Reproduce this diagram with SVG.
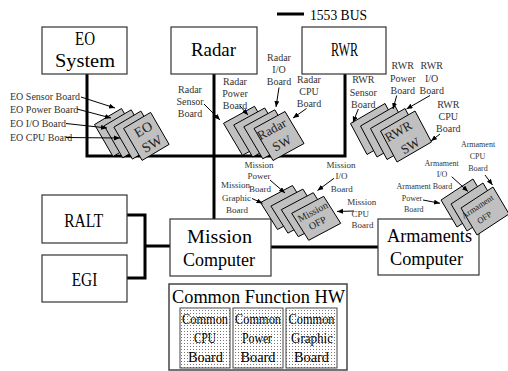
<svg xmlns="http://www.w3.org/2000/svg" xmlns:xlink="http://www.w3.org/1999/xlink" width="508" height="371" viewBox="0 0 508 371">
<style>
.box{fill:#fff;stroke:#333;stroke-width:1.2}
.bus{fill:none;stroke:#000;stroke-width:3}
.big{font-family:"Liberation Serif","Times New Roman",serif;font-size:19px;fill:#000;text-anchor:middle}
.mid{font-family:"Liberation Serif","Times New Roman",serif;font-size:15px;fill:#000;text-anchor:middle}
.lbl{font-family:"Liberation Serif","Times New Roman",serif;font-size:10px;fill:#333;text-anchor:middle}
.lbl9{font-family:"Liberation Serif","Times New Roman",serif;font-size:9px;fill:#333;text-anchor:middle}
.lbl8{font-family:"Liberation Serif","Times New Roman",serif;font-size:8px;fill:#333;text-anchor:middle}
.card{font-family:"Liberation Serif","Times New Roman",serif;fill:#222;text-anchor:middle}
.arr{stroke:#000;stroke-width:1;fill:none;marker-end:url(#ah)}
.cbox{fill:url(#dots);stroke:#444;stroke-width:1}
</style>
<defs>
<marker id="ah" markerUnits="userSpaceOnUse" markerWidth="7" markerHeight="6" refX="6" refY="2.5" orient="auto">
<path d="M0,0 L6,2.5 L0,5 z" fill="#000"/>
</marker>
<pattern id="dots" patternUnits="userSpaceOnUse" width="3" height="3">
<rect width="3" height="3" fill="#fff"/>
<rect x="1" y="1" width="1" height="1" fill="#777"/>
</pattern>
<polygon id="cEO" points="0,0 27,-16 45.5,16 18.5,32" fill="#c0c0c0" stroke="#000" stroke-width="1"/>
<polygon id="cRD" points="0,0 31,-17 50,15 19,32" fill="#c0c0c0" stroke="#000" stroke-width="1"/>
<polygon id="cRW" points="0,0 34.5,-20 51,11 16.5,31" fill="#c0c0c0" stroke="#000" stroke-width="1"/>
<polygon id="cMS" points="0,0 32,-17 49,10 17,27" fill="#c0c0c0" stroke="#000" stroke-width="1"/>
<polygon id="cAR" points="0,0 32,-21 48,6 16,27" fill="#c0c0c0" stroke="#000" stroke-width="1"/>
</defs>
<rect width="508" height="371" fill="#fff"/>

<g id="connectors">
<path class="bus" d="M87,74 V156 H345 V74"/>
<path class="bus" d="M214,74 V219"/>
<path class="bus" d="M127,215 H145 V278 H127 M145,246 H170"/>
<path class="bus" d="M271,247 H378"/>
<path class="bus" d="M277,14 H304"/>
</g>

<g id="legend">
<text class="mid" x="338.5" y="19.5" textLength="57" lengthAdjust="spacingAndGlyphs">1553 BUS</text>
</g>

<g id="eo-system">
<rect class="box" x="42" y="27" width="85" height="47"/>
<text class="big" x="85" y="45" textLength="20" lengthAdjust="spacingAndGlyphs">EO</text>
<text class="big" x="85" y="66.7" textLength="60" lengthAdjust="spacingAndGlyphs">System</text>
</g>
<g id="radar">
<rect class="box" x="171" y="27" width="86" height="47"/>
<text class="big" x="213.5" y="56" textLength="45" lengthAdjust="spacingAndGlyphs">Radar</text>
</g>
<g id="rwr">
<rect class="box" x="302" y="27" width="84" height="47"/>
<text class="big" x="344.5" y="56" textLength="27" lengthAdjust="spacingAndGlyphs">RWR</text>
</g>
<g id="ralt">
<rect class="box" x="42" y="195" width="85" height="48"/>
<text class="big" x="83.7" y="226.7" textLength="39" lengthAdjust="spacingAndGlyphs">RALT</text>
</g>
<g id="egi">
<rect class="box" x="42" y="255" width="85" height="47"/>
<text class="big" x="84.5" y="286" textLength="25.6" lengthAdjust="spacingAndGlyphs">EGI</text>
</g>
<g id="mission-computer">
<rect class="box" x="170" y="219" width="101" height="57"/>
<text class="big" x="219.5" y="242.7" textLength="65" lengthAdjust="spacingAndGlyphs">Mission</text>
<text class="big" x="219" y="266" textLength="72" lengthAdjust="spacingAndGlyphs">Computer</text>
</g>
<g id="armaments-computer">
<rect class="box" x="378" y="219" width="101" height="56"/>
<text class="big" x="429.5" y="241.7" textLength="85" lengthAdjust="spacingAndGlyphs">Armaments</text>
<text class="big" x="426.5" y="265" textLength="73" lengthAdjust="spacingAndGlyphs">Computer</text>
</g>

<g id="common-function-hw">
<rect x="169" y="284" width="178" height="86" fill="#fff" stroke="#444" stroke-width="1.5"/>
<text class="big" x="258.5" y="303.3" textLength="173" lengthAdjust="spacingAndGlyphs">Common Function HW</text>
<rect class="cbox" x="180" y="308" width="50" height="60"/>
<rect class="cbox" x="233" y="308" width="50" height="60"/>
<rect class="cbox" x="286" y="308" width="51" height="60"/>
<text class="mid" x="205" y="324" textLength="46" lengthAdjust="spacingAndGlyphs">Common</text>
<text class="mid" x="205" y="343" textLength="22" lengthAdjust="spacingAndGlyphs">CPU</text>
<text class="mid" x="205.5" y="362" textLength="35" lengthAdjust="spacingAndGlyphs">Board</text>
<text class="mid" x="258" y="324" textLength="46" lengthAdjust="spacingAndGlyphs">Common</text>
<text class="mid" x="257" y="343" textLength="30" lengthAdjust="spacingAndGlyphs">Power</text>
<text class="mid" x="258" y="362" textLength="35" lengthAdjust="spacingAndGlyphs">Board</text>
<text class="mid" x="311.5" y="324" textLength="46" lengthAdjust="spacingAndGlyphs">Common</text>
<text class="mid" x="312" y="343" textLength="42" lengthAdjust="spacingAndGlyphs">Graphic</text>
<text class="mid" x="311.5" y="362" textLength="35" lengthAdjust="spacingAndGlyphs">Board</text>
</g>

<g id="eo-sw">
<use xlink:href="#cEO" x="94.5" y="124.5"/>
<use xlink:href="#cEO" x="104.2" y="125.8"/>
<use xlink:href="#cEO" x="113.9" y="127.1"/>
<use xlink:href="#cEO" x="123.6" y="128.4"/>
<g transform="translate(146.3,136.4) rotate(-30.6)">
<text class="card" font-size="14" x="1" y="-3">EO</text>
<text class="card" font-size="14" x="1" y="14">SW</text>
</g>
<text class="lbl" x="10" y="100" style="text-anchor:start">EO Sensor Board</text>
<text class="lbl" x="10" y="112.5" style="text-anchor:start">EO Power Board</text>
<text class="lbl" x="10" y="127" style="text-anchor:start">EO I/O Board</text>
<text class="lbl" x="10" y="140.5" style="text-anchor:start">EO CPU Board</text>
<line class="arr" x1="81" y1="97" x2="115" y2="108"/>
<line class="arr" x1="77" y1="109" x2="111" y2="118"/>
<line class="arr" x1="66" y1="123.5" x2="107" y2="128"/>
<line class="arr" x1="66" y1="137.5" x2="120" y2="138"/>
</g>

<g id="radar-sw">
<use xlink:href="#cRD" x="223.5" y="123.3"/>
<use xlink:href="#cRD" x="233.7" y="125"/>
<use xlink:href="#cRD" x="243.8" y="126.8"/>
<use xlink:href="#cRD" x="254" y="128.5"/>
<g transform="translate(279,136) rotate(-28.7)">
<text class="card" font-size="13" x="-3" y="-5">Radar</text>
<text class="card" font-size="13" x="-1" y="12">SW</text>
</g>
<text class="lbl"><tspan x="190" y="92.5">Radar</tspan><tspan x="190" y="105">Sensor</tspan><tspan x="190" y="117">Board</tspan></text>
<text class="lbl"><tspan x="235" y="85">Radar</tspan><tspan x="235" y="97.3">Power</tspan><tspan x="235" y="109.3">Board</tspan></text>
<text class="lbl"><tspan x="279" y="60.7">Radar</tspan><tspan x="279" y="72.7">I/O</tspan><tspan x="279" y="85">Board</tspan></text>
<text class="lbl"><tspan x="309" y="83.3">Radar</tspan><tspan x="309" y="95">CPU</tspan><tspan x="309" y="106.7">Board</tspan></text>
<line class="arr" x1="204" y1="104" x2="220" y2="120"/>
<line class="arr" x1="240" y1="106" x2="248" y2="115"/>
<line class="arr" x1="279" y1="87.5" x2="276" y2="107"/>
<line class="arr" x1="306.5" y1="108.5" x2="293" y2="118"/>
</g>

<g id="rwr-sw">
<use xlink:href="#cRW" x="350.5" y="123.5"/>
<use xlink:href="#cRW" x="360.5" y="126"/>
<use xlink:href="#cRW" x="370.5" y="128.5"/>
<use xlink:href="#cRW" x="380.5" y="131"/>
<g transform="translate(406,136.5) rotate(-30)">
<text class="card" font-size="13" x="-4" y="-4">RWR</text>
<text class="card" font-size="13" x="-1" y="14.5">SW</text>
</g>
<text class="lbl"><tspan x="363.3" y="83.3">RWR</tspan><tspan x="363.3" y="96">Sensor</tspan><tspan x="363.3" y="107.7">Board</tspan></text>
<text class="lbl"><tspan x="402.7" y="69.3">RWR</tspan><tspan x="402.7" y="81.7">Power</tspan><tspan x="402.7" y="94">Board</tspan></text>
<text class="lbl"><tspan x="431.7" y="69.3">RWR</tspan><tspan x="431.7" y="81.7">I/O</tspan><tspan x="431.7" y="94">Board</tspan></text>
<text class="lbl"><tspan x="448.3" y="108.3">RWR</tspan><tspan x="448.3" y="120">CPU</tspan><tspan x="448.3" y="131.7">Board</tspan></text>
<line class="arr" x1="358.3" y1="109" x2="353" y2="122.5"/>
<line class="arr" x1="396.7" y1="95.5" x2="393" y2="109"/>
<line class="arr" x1="430" y1="95.5" x2="406.5" y2="109"/>
<line class="arr" x1="440" y1="134" x2="431" y2="141"/>
</g>

<g id="mission-ofp">
<use xlink:href="#cMS" x="260.5" y="202.5"/>
<use xlink:href="#cMS" x="270.9" y="206.1"/>
<use xlink:href="#cMS" x="281.3" y="209.7"/>
<use xlink:href="#cMS" x="291.7" y="213.3"/>
<g transform="translate(316.2,218.3) rotate(-28)">
<text class="card" font-size="10" x="0" y="-4">Mission</text>
<text class="card" font-size="10" x="-1" y="8">OFP</text>
</g>
<text class="lbl9"><tspan x="259" y="168">Mission</tspan><tspan x="259" y="179.3">Power</tspan><tspan x="260" y="191.7">Board</tspan></text>
<text class="lbl9"><tspan x="235.5" y="188.3">Mission</tspan><tspan x="236.5" y="200.5">Graphic</tspan><tspan x="237" y="213">Board</tspan></text>
<text class="lbl9"><tspan x="341" y="168.3">Mission</tspan><tspan x="341.5" y="179.3">I/O</tspan><tspan x="341.7" y="191.7">Board</tspan></text>
<text class="lbl9"><tspan x="361.7" y="205">Mission</tspan><tspan x="360.3" y="216.5">CPU</tspan><tspan x="362.5" y="228.3">Board</tspan></text>
<line class="arr" x1="270" y1="180" x2="285" y2="193"/>
<line class="arr" x1="252" y1="198.5" x2="262.5" y2="203.3"/>
<line class="arr" x1="334" y1="178.3" x2="317.5" y2="190.5"/>
<line class="arr" x1="354" y1="211" x2="337" y2="211.5"/>
</g>

<g id="armament-ofp">
<use xlink:href="#cAR" x="441" y="200"/>
<use xlink:href="#cAR" x="451" y="204"/>
<use xlink:href="#cAR" x="461" y="208"/>
<g transform="translate(485,211) rotate(-33)">
<text class="card" font-size="8.5" x="-4" y="-5">Armament</text>
<text class="card" font-size="8.5" x="-4" y="8">OFP</text>
</g>
<text class="lbl8"><tspan x="478" y="146.7">Armament</tspan><tspan x="477.5" y="159.3">CPU</tspan><tspan x="478" y="170.7">Board</tspan></text>
<text class="lbl8"><tspan x="441.7" y="166">Armament</tspan><tspan x="442" y="177.3">I/O</tspan><tspan x="442.5" y="189.3">Board</tspan></text>
<text class="lbl8"><tspan x="413.7" y="189.3">Armament</tspan><tspan x="412" y="201.2">Power</tspan><tspan x="413.8" y="211.7">Board</tspan></text>
<line class="arr" x1="485" y1="175" x2="492.5" y2="185"/>
<line class="arr" x1="451.7" y1="176.7" x2="468" y2="191.5"/>
<line class="arr" x1="423" y1="200" x2="440" y2="203.3"/>
</g>
</svg>
